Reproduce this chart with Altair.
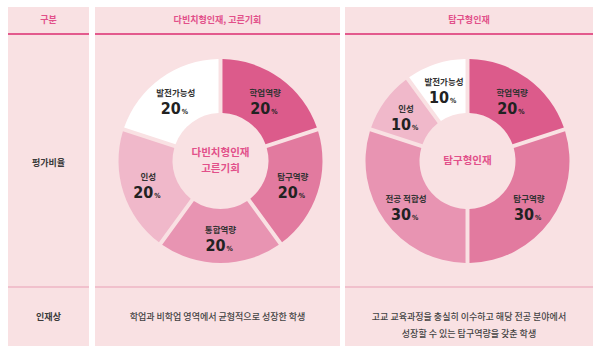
import altair as alt
import pandas as pd

# ---------------- data ----------------
headers = ["구분", "다빈치형인재, 고른기회", "탐구형인재"]
row_labels = ["평가비율", "인재상"]

cats1 = ["학업역량", "탐구역량", "통합역량", "인성", "발전가능성"]
vals1 = [20, 20, 20, 20, 20]

cats2 = ["학업역량", "탐구역량", "전공 적합성", "인성", "발전가능성"]
vals2 = [20, 30, 30, 10, 10]

center_titles = [["다빈치형인재", "고른기회"], ["탐구형인재"]]
desc1 = ["학업과 비학업 영역에서 균형적으로 성장한 학생"]
desc2 = ["고교 교육과정을 충실히 이수하고 해당 전공 분야에서", "성장할 수 있는 탐구역량을 갖춘 학생"]

# ---------------- styles ----------------
palette_domain = ["학업역량", "탐구역량", "통합역량", "전공 적합성", "인성", "발전가능성"]
palette_range = ["#dc5b8b", "#e27a9f", "#e894b2", "#e894b2", "#f0b8ca", "#ffffff"]

BG = "#f9e1e3"
PINK = "#e2508a"
DARK = "#333333"
KR = "Noto Sans CJK KR"
NUM = "'Liberation Sans Narrow', 'DejaVu Sans Condensed', 'Roboto Condensed', 'DejaVu Sans', sans-serif"

cols = [(8, 89), (95, 340), (345, 593)]
TOP, BOTTOM = 7, 346
HEAD_LINE, ROW_LINE = 34, 287
HEAD_Y, MID_Y, LOW_Y = 20, 161, 317

one = alt.Data(values=[{}])
layers = []

# table cells
for (x1, x2) in cols:
    layers.append(alt.Chart(one).mark_rect(color=BG).encode(
        x=alt.value(x1), x2=alt.value(x2), y=alt.value(TOP), y2=alt.value(BOTTOM)))
    layers.append(alt.Chart(one).mark_rule(color="#e35a8d", strokeWidth=2).encode(
        x=alt.value(x1), x2=alt.value(x2), y=alt.value(HEAD_LINE)))
    layers.append(alt.Chart(one).mark_rule(color="#e9a0b6", strokeWidth=1.2).encode(
        x=alt.value(x1), x2=alt.value(x2), y=alt.value(ROW_LINE)))

# headers
for (x1, x2), h in zip(cols, headers):
    layers.append(alt.Chart(pd.DataFrame({"t": [h]})).mark_text(
        font=KR, fontSize=9, fontWeight="bold", color=PINK, baseline="middle", align="center"
    ).encode(text="t:N", x=alt.value((x1 + x2) / 2), y=alt.value(HEAD_Y)))

# row labels
for lbl, yy in zip(row_labels, [MID_Y + 2, LOW_Y]):
    layers.append(alt.Chart(pd.DataFrame({"t": [lbl]})).mark_text(
        font=KR, fontSize=9, fontWeight="bold", color="#3a3a3a", baseline="middle", align="center"
    ).encode(text="t:N", x=alt.value((cols[0][0] + cols[0][1]) / 2), y=alt.value(yy)))

# descriptions
layers.append(alt.Chart(pd.DataFrame({"t": ["\n".join(desc1)]})).mark_text(
    font=KR, fontSize=9, fontWeight=500, color="#444444", baseline="middle", align="center",
    lineBreak="\n", lineHeight=17
).encode(text="t:N", x=alt.value((cols[1][0] + cols[1][1]) / 2), y=alt.value(LOW_Y)))
layers.append(alt.Chart(pd.DataFrame({"t": ["\n".join(desc2)]})).mark_text(
    font=KR, fontSize=9, fontWeight=500, color="#444444", baseline="middle", align="center",
    lineBreak="\n", lineHeight=17
).encode(text="t:N", x=alt.value((cols[2][0] + cols[2][1]) / 2), y=alt.value(LOW_Y)))


def donut(cats, vals, cx, cy, title_lines):
    df = pd.DataFrame({"cat": cats, "val": vals, "idx": list(range(len(cats)))})
    df["pct"] = df["val"].astype(str)
    base = alt.Chart(df).encode(
        theta=alt.Theta("val:Q", stack=True),
        order=alt.Order("idx:Q"),
        x=alt.value(cx), y=alt.value(cy),
    )
    arc = base.mark_arc(innerRadius=48, outerRadius=102, padAngle=0.035).encode(
        color=alt.Color("cat:N", scale=alt.Scale(domain=palette_domain, range=palette_range), legend=None)
    )
    name = base.mark_text(radius=76, font=KR, fontSize=8.5, fontWeight="bold", color=DARK,
                          baseline="middle", align="center", dy=-7).encode(
        detail="cat:N", text="cat:N")
    num = base.mark_text(radius=76, font=NUM, fontSize=16, fontWeight="bold", color="#222222",
                         baseline="alphabetic", align="right", dx=5, dy=14).encode(
        detail="cat:N", text="pct:N")
    pc = base.mark_text(radius=76, font=NUM, fontSize=7, fontWeight="bold", color="#222222",
                        baseline="alphabetic", align="left", dx=6, dy=14, text="%").encode(
        detail="cat:N")
    out = [arc, name, num, pc]
    n = len(title_lines)
    step = 15.5
    for i, line in enumerate(title_lines):
        yy = cy + (i - (n - 1) / 2) * step
        out.append(alt.Chart(pd.DataFrame({"t": [line]})).mark_text(
            font=KR, fontSize=10.5, fontWeight="bold", color=PINK, baseline="middle", align="center"
        ).encode(text="t:N", x=alt.value(cx), y=alt.value(yy)))
    return out


layers += donut(cats1, vals1, 220.5, 161, center_titles[0])
layers += donut(cats2, vals2, 467.5, 161, center_titles[1])

chart = alt.layer(*layers).properties(
    width=600, height=353, autosize=alt.AutoSizeParams(type="none"), padding=0,
    background="white"
).configure_view(stroke=None)

chart.save("out.html", embed_options={"renderer": "svg", "actions": False})
